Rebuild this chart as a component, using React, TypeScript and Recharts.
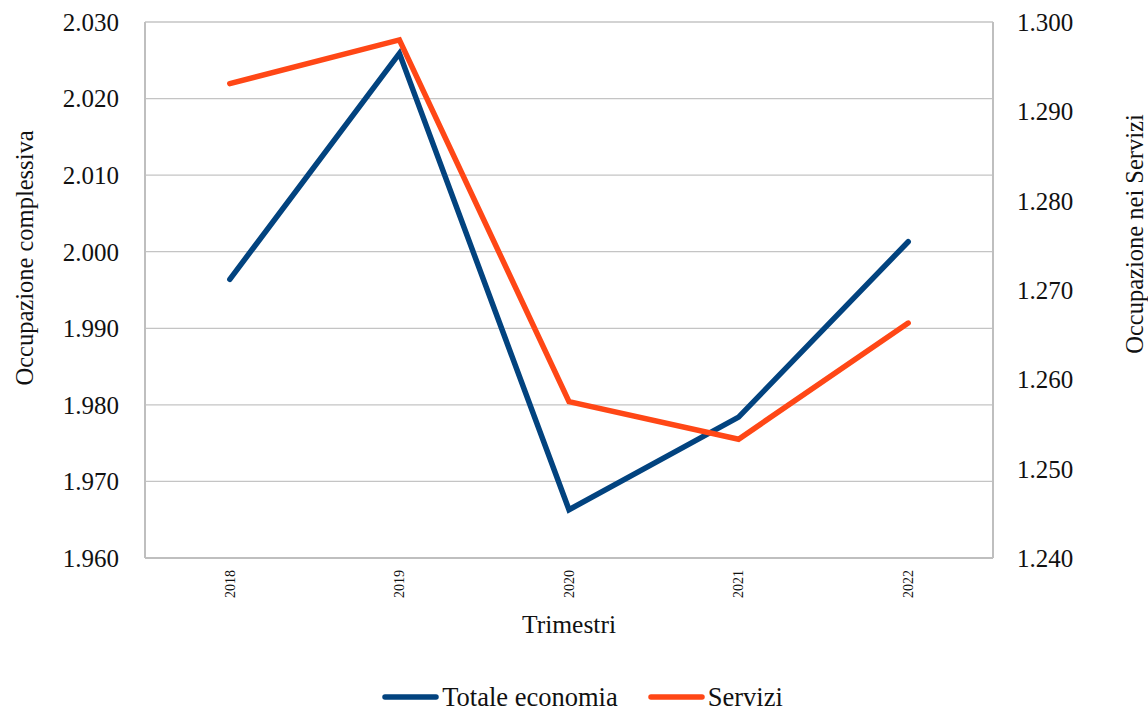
import React from "react";
import {
  LineChart,
  Line,
  XAxis,
  YAxis,
  CartesianGrid,
  Legend,
} from "recharts";

const anni = ["2018", "2019", "2020", "2021", "2022"];
// migliaia di occupati
const totaleEconomia = [1996.4, 2025.9, 1966.3, 1978.4, 2001.3];
const servizi = [1293.1, 1298.0, 1257.5, 1253.3, 1266.3];

const ticksSx = [1960, 1970, 1980, 1990, 2000, 2010, 2020, 2030];
const ticksDx = [1240, 1250, 1260, 1270, 1280, 1290, 1300];

const serie = [
  { key: "totale", nome: "Totale economia", colore: "#02437f", asse: "sx" },
  { key: "servizi", nome: "Servizi", colore: "#ff4716", asse: "dx" },
];

const data = anni.map((anno, i) => ({
  anno,
  totale: totaleEconomia[i],
  servizi: servizi[i],
}));

const FONT = '"Liberation Serif", "Times New Roman", serif';

// 2030 -> "2.030"
const migliaia = (v: number) => {
  const n = Math.round(v);
  return `${Math.floor(n / 1000)}.${String(n % 1000).padStart(3, "0")}`;
};

const TickAnno = (props: any) => {
  const { x, y, payload } = props;
  return (
    <text
      x={x}
      y={y}
      transform={`rotate(-90, ${x}, ${y})`}
      textAnchor="end"
      dy="0.35em"
      fontSize={14}
      fontFamily={FONT}
      fill="#111"
    >
      {payload.value}
    </text>
  );
};

const LegendaCustom = () => (
  <div
    style={{
      display: "flex",
      justifyContent: "center",
      alignItems: "center",
      height: 28,
      lineHeight: "28px",
      paddingLeft: 17,
      fontFamily: FONT,
      fontSize: 26.5,
      color: "#111",
    }}
  >
    {serie.map((s, i) => (
      <div
        key={s.key}
        style={{ display: "flex", alignItems: "center", marginLeft: i ? 30 : 0 }}
      >
        <svg width={57} height={8} style={{ marginRight: 3 }}>
          <line
            x1={3}
            y1={4}
            x2={54}
            y2={4}
            stroke={s.colore}
            strokeWidth={5.5}
            strokeLinecap="round"
          />
        </svg>
        <span>{s.nome}</span>
      </div>
    ))}
  </div>
);

export default function App() {
  return (
    <div style={{ width: 1148, height: 711 }}>
      <style>{"body{margin:0}"}</style>
      <LineChart
        width={1148}
        height={711}
        data={data}
        margin={{ top: 22, right: 0, bottom: 0, left: 0 }}
        style={{ fontFamily: FONT }}
      >
        <CartesianGrid
          yAxisId="sx"
          vertical={false}
          stroke="#c4c4c4"
          strokeWidth={1.3}
        />
        <XAxis
          dataKey="anno"
          scale="band"
          height={125}
          interval={0}
          tickLine={false}
          axisLine={{ stroke: "#bfbfbf", strokeWidth: 2 }}
          tickMargin={6}
          tick={<TickAnno />}
          label={{
            content: ({ viewBox }: any) => (
              <text
                x={viewBox.x + viewBox.width / 2}
                y={viewBox.y + 75}
                textAnchor="middle"
                fontSize={25.5}
                fontFamily={FONT}
                fill="#111"
              >
                Trimestri
              </text>
            ),
          }}
        />
        <YAxis
          yAxisId="sx"
          width={145}
          domain={[1960, 2030]}
          ticks={ticksSx}
          interval={0}
          tickFormatter={migliaia}
          tickLine={false}
          axisLine={{ stroke: "#bfbfbf", strokeWidth: 2 }}
          tickMargin={20}
          tick={{ fontSize: 25, fill: "#111", fontFamily: FONT }}
          label={{
            content: ({ viewBox }: any) => {
              const cx = viewBox.x + 24;
              const cy = viewBox.y + viewBox.height / 2 - 32;
              return (
                <text
                  x={cx}
                  y={cy}
                  transform={`rotate(-90, ${cx}, ${cy})`}
                  textAnchor="middle"
                  dy="0.35em"
                  fontSize={24.5}
                  fontFamily={FONT}
                  fill="#111"
                >
                  Occupazione complessiva
                </text>
              );
            },
          }}
        />
        <YAxis
          yAxisId="dx"
          orientation="right"
          width={155}
          domain={[1240, 1300]}
          ticks={ticksDx}
          interval={0}
          tickFormatter={migliaia}
          tickLine={false}
          axisLine={{ stroke: "#bfbfbf", strokeWidth: 2 }}
          tickMargin={18}
          tick={{ fontSize: 25, fill: "#111", fontFamily: FONT }}
          label={{
            content: ({ viewBox }: any) => {
              const cx = viewBox.x + 141;
              const cy = viewBox.y + viewBox.height / 2 - 56;
              return (
                <text
                  x={cx}
                  y={cy}
                  transform={`rotate(-90, ${cx}, ${cy})`}
                  textAnchor="middle"
                  dy="0.35em"
                  fontSize={24.5}
                  fontFamily={FONT}
                  fill="#111"
                >
                  Occupazione nei Servizi
                </text>
              );
            },
          }}
        />
        <Legend verticalAlign="bottom" content={<LegendaCustom />} />
        {serie.map((s) => (
          <Line
            key={s.key}
            yAxisId={s.asse}
            dataKey={s.key}
            name={s.nome}
            stroke={s.colore}
            strokeWidth={5.5}
            strokeLinecap="round"
            dot={false}
            activeDot={false}
            isAnimationActive={false}
          />
        ))}
      </LineChart>
    </div>
  );
}
